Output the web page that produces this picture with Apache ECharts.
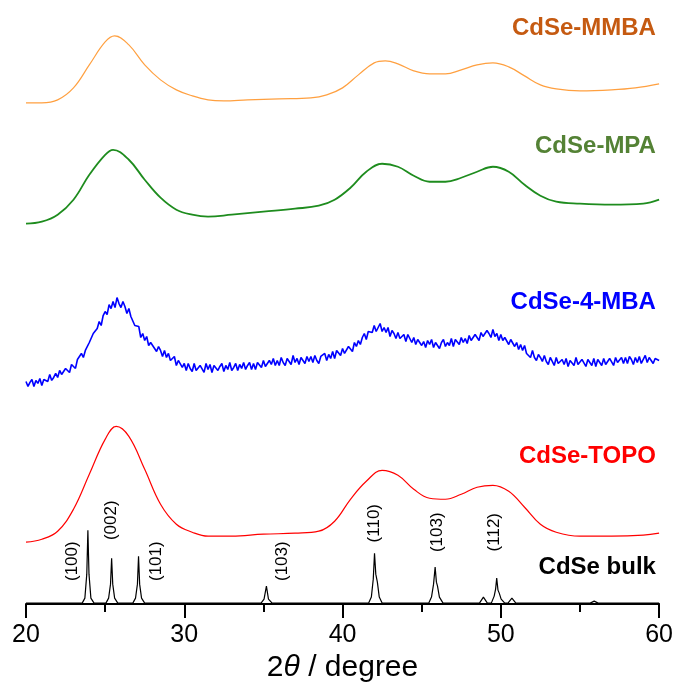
<!DOCTYPE html>
<html>
<head>
<meta charset="utf-8">
<script src="https://cdn.jsdelivr.net/npm/echarts@6/dist/echarts.min.js"></script>
<style>
  html, body { margin: 0; padding: 0; background: #ffffff; }
  #chart { width: 676px; height: 688px; }
</style>
</head>
<body>
<div id="chart"></div>
<script>
// XRD patterns of CdSe nanocrystals with different ligands, stacked with vertical offsets.
const xTicks = [20, 30, 40, 50, 60];

// CdSe-MMBA (intensity above its own baseline, a.u.)
const mmbaAngles = [20, 21, 22, 23, 24, 25, 25.6, 26.5, 27.5, 28.5, 29.5, 30.5, 31.5, 32.5, 34, 36, 38, 39, 40, 41, 42, 42.7, 43.5, 44.5, 45.5, 46.5, 47.5, 48.5, 49.5, 50.5, 51.5, 52.5, 53.5, 55, 57, 58.5, 60];
const mmbaValues = [0, 0, 3, 15, 38, 61, 67, 58, 38, 23, 13, 7, 3, 2, 3, 4, 5, 8, 15, 28, 40, 42, 39, 32, 29, 29, 33, 38, 40, 36, 27, 18, 14, 12, 13, 15, 19];

// CdSe-MPA
const mpaAngles = [20, 21, 22, 23, 24, 25, 25.5, 26.5, 27.5, 28.5, 29.5, 30.5, 31.5, 33, 35, 37, 38.5, 39.5, 40.5, 41.5, 42.5, 43.5, 44.5, 45.5, 46.5, 47.5, 48.5, 49.5, 50.5, 51.5, 52.5, 53.5, 55, 57, 59, 60];
const mpaValues = [0, 2, 9, 24, 49, 69, 74, 64, 44, 26, 14, 9, 7, 9, 12, 15, 18, 24, 36, 52, 60, 57, 48, 42, 42, 46, 52, 57, 52, 39, 28, 22, 20, 19, 20, 24];

// CdSe-4-MBA, sampled every 0.125 degree from 20 to 60 (noisy scan)
const mba4Start = 20, mba4Step = 0.125;
const mba4Values = [
  3, -2, 2, 5, -2, 4, 1, 6, -1, 5, 7, 3, 10, 4, 7, 11,
  7, 14, 10, 8, 16, 15, 12, 20, 20, 16, 25, 24, 31, 27, 34, 34,
  42, 40, 51, 49, 56, 63, 59, 69, 73, 70, 80, 76, 83, 77, 87, 81,
  77, 83, 78, 71, 76, 68, 70, 59, 60, 58, 47, 51, 44, 48, 39, 42,
  43, 36, 33, 38, 34, 28, 34, 27, 31, 24, 24, 28, 19, 24, 24, 17,
  21, 14, 21, 16, 13, 21, 14, 12, 19, 17, 12, 21, 15, 20, 12, 19,
  20, 14, 18, 21, 13, 19, 15, 22, 14, 17, 21, 14, 20, 16, 22, 15,
  19, 22, 15, 21, 15, 22, 20, 17, 24, 18, 16, 24, 20, 26, 19, 24,
  19, 27, 22, 19, 26, 24, 20, 29, 22, 26, 20, 27, 25, 21, 28, 23,
  28, 22, 29, 24, 21, 28, 27, 31, 24, 30, 26, 33, 26, 34, 32, 29,
  36, 31, 31, 38, 36, 33, 42, 38, 44, 40, 47, 51, 45, 53, 55, 52,
  59, 53, 57, 61, 53, 57, 52, 57, 48, 54, 51, 46, 52, 46, 44, 50,
  43, 50, 46, 42, 47, 40, 45, 47, 39, 43, 37, 44, 40, 45, 37, 42,
  43, 36, 42, 45, 38, 42, 39, 46, 38, 45, 43, 40, 47, 42, 46, 41,
  49, 44, 43, 50, 49, 44, 52, 48, 46, 54, 51, 47, 55, 48, 51, 44,
  50, 44, 47, 49, 40, 45, 45, 38, 42, 35, 40, 34, 39, 31, 33, 27,
  34, 27, 24, 30, 27, 23, 29, 23, 20, 27, 25, 19, 27, 21, 19, 25,
  20, 26, 18, 24, 23, 19, 27, 20, 18, 25, 23, 18, 25, 24, 19, 26,
  18, 25, 23, 19, 26, 20, 19, 26, 25, 19, 27, 22, 20, 27, 21, 27,
  21, 28, 25, 20, 27, 22, 28, 21, 23, 29, 22, 27, 29, 21, 26, 28,
  24
];

// CdSe-TOPO
const topoAngles = [20, 21, 22, 23, 24, 25, 25.7, 26.5, 27.5, 28.5, 29.5, 30.5, 31.5, 33, 35, 37, 38.5, 39.5, 40.5, 41.5, 42.5, 43.5, 44.5, 45.5, 46.5, 47.5, 48.5, 49.5, 50.5, 51.5, 52.5, 53.5, 55, 57, 59, 60];
const topoValues = [0, 3, 11, 33, 68, 103, 116, 106, 73, 38, 18, 10, 6, 6, 8, 9, 11, 21, 43, 61, 72, 67, 53, 44, 43, 48, 55, 57, 51, 35, 18, 10, 6, 6, 7, 9];

// CdSe bulk reference pattern
const bulkAngles = [
  20, 23.55, 23.72, 23.84, 23.91, 23.98, 24.1, 24.3,
  25.05, 25.22, 25.34, 25.41, 25.48, 25.6, 25.8,
  26.75, 26.92, 27.04, 27.11, 27.18, 27.3, 27.5,
  34.85, 35.04, 35.19, 35.32, 35.55,
  41.65, 41.82, 41.94, 42.02, 42.1, 42.2, 42.32, 42.5,
  45.45, 45.62, 45.75, 45.85, 45.93, 46.0, 46.12, 46.35,
  48.65, 48.9, 49.15,
  49.4, 49.58, 49.67, 49.74, 49.82, 49.9, 50.02, 50.25,
  50.45, 50.7, 50.95,
  55.65, 55.9, 56.15, 60
];
const bulkValues = [
  1, 1, 6, 30, 74, 30, 6, 1,
  1, 6, 20, 46, 20, 6, 1,
  1, 6, 20, 48, 20, 6, 1,
  1, 5, 18, 5, 1,
  1, 7, 25, 51, 30, 22, 7, 1,
  1, 7, 20, 37, 22, 18, 7, 1,
  1, 7, 1,
  1, 8, 15, 26, 14, 11, 5, 1,
  1, 6, 1,
  1, 3, 1, 1
];

// Miller indices of the bulk reflections
const hklLabels  = ['(100)', '(002)', '(101)', '(103)', '(110)', '(103)', '(112)'];
const hklAngles  = [22.9, 25.37, 28.25, 36.2, 42.0, 46.0, 49.6];
const hklHeights = [43, 84, 43, 43, 81, 72, 72];

// Sample names on the right
const sampleNames   = ['CdSe-MMBA', 'CdSe-MPA', 'CdSe-4-MBA', 'CdSe-TOPO', 'CdSe bulk'];
const sampleHeights = [577, 458, 302, 148, 37];

const FONT = '"Liberation Sans", Arial, Helvetica, sans-serif';
const offsets = { mmba: 502, mpa: 381, mba4: 220, topo: 62, bulk: 0 };

function pairs(angles, values, offset) {
  return angles.map((a, i) => [a, values[i] + offset]);
}
const mba4Data = mba4Values.map((v, i) => [mba4Start + i * mba4Step, v + offsets.mba4]);

const lineColors = ['#FFA040', '#1E8C1E', '#0000FF', '#FF0000', '#000000'];
const textColors = ['#C55A11', '#548235', '#0000FF', '#FF0000', '#000000'];

function lineSeries(name, data, color, width, smooth) {
  return {
    name, type: 'line', data, showSymbol: false, smooth,
    lineStyle: { color, width }, silent: true, z: 2
  };
}

const chart = echarts.init(document.getElementById('chart'), null, { renderer: 'canvas' });
chart.setOption({
  animation: false,
  backgroundColor: '#ffffff',
  grid: { left: 26, right: 16, top: 0, bottom: 83, containLabel: false },
  xAxis: {
    type: 'value', min: xTicks[0], max: xTicks[xTicks.length - 1], interval: 10,
    axisLine: { show: true, onZero: false, lineStyle: { color: '#000', width: 2 } },
    axisTick: { show: true, length: 14, lineStyle: { color: '#000', width: 2 } },
    minorTick: { show: true, splitNumber: 2, length: 8, lineStyle: { color: '#000', width: 2 } },
    splitLine: { show: false },
    axisLabel: { color: '#000', fontSize: 25, fontFamily: FONT, margin: 19 },
    name: '{n|2}{t|θ}{n| / degree}',
    nameLocation: 'middle', nameGap: 48,
    nameTextStyle: {
      rich: {
        n: { fontSize: 30, fontFamily: FONT, color: '#000' },
        t: { fontSize: 30, fontFamily: FONT, fontStyle: 'italic', color: '#000' }
      }
    }
  },
  yAxis: { type: 'value', min: 0, max: 605, show: false },
  series: [
    lineSeries('CdSe-MMBA', pairs(mmbaAngles, mmbaValues, offsets.mmba), lineColors[0], 1.2, 0.4),
    lineSeries('CdSe-MPA', pairs(mpaAngles, mpaValues, offsets.mpa), lineColors[1], 1.8, 0.4),
    lineSeries('CdSe-4-MBA', mba4Data, lineColors[2], 1.6, false),
    lineSeries('CdSe-TOPO', pairs(topoAngles, topoValues, offsets.topo), lineColors[3], 1.2, 0.4),
    lineSeries('CdSe bulk', pairs(bulkAngles, bulkValues, offsets.bulk), lineColors[4], 1.2, false),
    {
      name: 'hkl', type: 'scatter', symbolSize: 0, silent: true,
      itemStyle: { opacity: 1 },
      data: hklAngles.map((a, i) => ({ value: [a, hklHeights[i]], label: { formatter: hklLabels[i] } })),
      label: { show: true, position: 'inside', rotate: 90, color: '#000', opacity: 1, fontSize: 17, fontFamily: FONT }
    },
    {
      name: 'samples', type: 'scatter', symbolSize: 0, silent: true,
      itemStyle: { opacity: 1 },
      data: sampleNames.map((n, i) => ({
        value: [59.8, sampleHeights[i]],
        label: { formatter: n, color: textColors[i] }
      })),
      label: { show: true, position: 'left', distance: 0, opacity: 1, fontSize: 24, fontWeight: 'bold', fontFamily: FONT }
    }
  ]
});
</script>
</body>
</html>
